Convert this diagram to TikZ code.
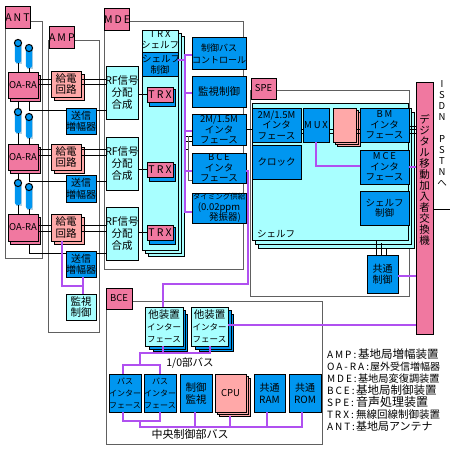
\documentclass[tikz,border=0pt]{standalone}
\usepackage{fontspec}
\setmainfont{Noto Sans CJK JP}
\newfontfamily\lsf[LetterSpace=20]{Noto Sans CJK JP}
\definecolor{cpink}{HTML}{F078A0}
\definecolor{ccyan}{HTML}{A8FFFF}
\definecolor{cblue}{HTML}{0096F0}
\definecolor{csalm}{HTML}{FFA8A8}
\definecolor{cpurp}{HTML}{B050F0}
\definecolor{cgray}{HTML}{606060}
\newcommand{\fz}[2]{\fontsize{#1}{#2}\selectfont}
% \bb[opts]{x1}{y1}{x2}{y2}{name}{fill}{text}
\newcommand{\bb}[8][]{\node[boxnode,fill=#7,minimum width={(#4-#2)*1pt},minimum height={(#5-#3)*1pt},text width={(#4-#2)*1pt},#1] (#6) at ({(#2+#4)/2},{(#3+#5)/2}) {#8};}
\newcommand{\ly}[5]{\draw[blk,fill=#5] (#1,#2) rectangle (#3,#4);}
\newcommand{\frm}[4]{\draw[framel] (#1,#2) rectangle (#3,#4);}
\newcommand{\antn}[3]{%
  \fill[cblue!45!gray!40] (#1-2.4,#2+1) rectangle (#1+4,#3+1);
  \fill[cblue,rounded corners=2.5pt] (#1-3.2,#2) rectangle (#1+3.2,#3);
  \draw[blk,fill=cblue] (#1,#2) circle (3.6pt);}
\newcommand{\lgl}[4]{\makebox[#2pt][l]{\lsf #1}{\fz{#3}{12}#4}}
\tikzset{
  x=1pt,y=-1pt,
  boxnode/.style={draw=black,line width=1pt,inner sep=0pt,outer sep=0pt,align=center,font=\fz{10.5}{11.5}},
  blk/.style={draw=black,line width=1pt},
  gryl/.style={draw=cgray,line width=1pt},
  framel/.style={draw=cgray,line width=1pt},
  pur/.style={draw=cpurp,line width=1.2pt},
  plain/.style={inner sep=0pt,outer sep=0pt,font=\fz{10}{11}}
}
\begin{document}
\begin{tikzpicture}
\useasboundingbox (0,0) rectangle (450,452);
\fill[white] (0,0) rectangle (450,452);
% frames
\frm{5}{22}{42}{258}
\frm{48}{41}{99}{332}
\frm{104}{22}{243}{269}
\frm{250}{90}{409}{296}
\frm{106}{301}{322}{444}
% tags
\bb{5}{7}{30}{29}{tant}{cpink}{\lsf ANT}
\bb{49}{27}{74}{49}{tamp}{cpink}{\lsf AMP}
\bb{104}{9}{129}{31}{tmde}{cpink}{\lsf MDE}
\bb[font=\fz{9.5}{11}]{251}{78}{276}{99}{tspe}{cpink}{SPE}
\bb[font=\fz{9.5}{11}]{106}{288}{132}{309}{tbce}{cpink}{BCE}
% antennas
\antn{18}{43}{63}
\antn{29}{48}{68}
\antn{18}{112}{133}
\antn{29}{117}{138}
\antn{18}{183}{205}
\antn{29}{187}{209}
% OA-RA
\ly{10}{75}{40}{101}{cpink}
\bb[font=\fz{9.5}{10}]{8}{72}{38}{98}{oa1}{cpink}{\makebox[30pt]{OA-RA}}
\ly{10}{147}{40}{173}{cpink}
\bb[font=\fz{9.5}{10}]{8}{144}{38}{170}{oa2}{cpink}{\makebox[30pt]{OA-RA}}
\ly{10}{217}{40}{244}{cpink}
\bb[font=\fz{9.5}{10}]{8}{214}{38}{241}{oa3}{cpink}{\makebox[30pt]{OA-RA}}
\draw[blk] (18,63) -- (18,72) (29,68) -- (29,72) (18,101) -- (18,108) (29,138) -- (29,144) (18,133) -- (18,144) (18,173) -- (18,180) (18,205) -- (18,214) (29,209) -- (29,214);
% feed
\ly{54}{74}{84}{100}{csalm}
\bb{51}{71}{81}{97}{f1}{csalm}{給電\\回路}
\ly{54}{147}{84}{173}{csalm}
\bb{51}{144}{81}{170}{f2}{csalm}{給電\\回路}
\ly{54}{217}{84}{244}{csalm}
\bb{51}{214}{81}{241}{f3}{csalm}{給電\\回路}
% tx amps
\bb[font=\fz{10}{11.5}]{66}{108}{96}{134}{a1}{cblue}{送信\\増幅器}
\bb[font=\fz{10}{11.5}]{66}{175}{96}{202}{a2}{cblue}{送信\\増幅器}
\bb[font=\fz{10}{11.5}]{66}{251}{96}{277}{a3}{cblue}{送信\\増幅器}
\bb{66}{294}{96}{320}{mon}{ccyan}{監視\\制御}
% RF
\bb[font=\fz{10.5}{12}]{106}{66}{138}{119}{r1}{ccyan}{\makebox[32pt]{RF信号}\\分配\\合成}
\bb[font=\fz{10.5}{12}]{106}{137}{138}{190}{r2}{ccyan}{\makebox[32pt]{RF信号}\\分配\\合成}
\bb[font=\fz{10.5}{12}]{106}{207}{138}{260}{r3}{ccyan}{\makebox[32pt]{RF信号}\\分配\\合成}
% TRX shelf
\ly{148}{37}{184}{256}{ccyan}
\ly{145}{34}{181}{253}{ccyan}
\bb{142}{31}{178}{250}{trs}{ccyan}{}
\node[plain,font=\fz{9.5}{11},align=center,anchor=north] (trl) at (160,31) {\lsf TRX\\シェルフ};
\bb[font=\fz{9.5}{11}]{142}{53}{178}{76}{scf}{cblue}{シェルフ\\制御}
\ly{149}{89}{175}{106}{cblue}
\bb{147}{87}{173}{102}{t1}{cpink}{\lsf TRX}
\ly{149}{164}{175}{181}{cblue}
\bb{147}{162}{173}{177}{t2}{cpink}{\lsf TRX}
\ly{149}{227}{175}{244}{cblue}
\bb{147}{225}{173}{240}{t3}{cpink}{\lsf TRX}
% right column
\bb[font=\fz{9}{12}]{192}{38}{246}{69}{cbc}{cblue}{制御バス\\コントロール}
\bb{192}{76}{246}{107}{msv}{cblue}{監視制御}
\bb[font=\fz{9.5}{10.5}]{192}{114}{246}{145}{m2}{cblue}{2M/1.5M\\インタ\\フェース}
\bb[font=\fz{9.5}{10.5}]{192}{153}{246}{183}{bif}{cblue}{{\lsf BCE}\\インタ\\フェース}
\bb[font=\fz{9.5}{10.5}]{192}{193}{246}{223}{tim}{cblue}{{\fz{7.5}{10}タイミング供給}\\(0.02ppm\\\hspace*{12pt}発振器)}
% SPE shelf
\ly{258}{112}{414}{248}{ccyan}
\ly{255}{108}{411}{244}{ccyan}
\bb{252}{103}{408}{240}{ssh}{ccyan}{}
\node[plain,font=\fz{9.5}{11}] (shl) at (276,234) {シェルフ};
\bb[font=\fz{9.5}{10.5}]{252}{108}{301}{142}{s2m}{cblue}{2M/1.5M\\インタ\\フェース}
\bb[font=\fz{9.5}{11}]{252}{145}{301}{179}{clk}{cblue}{クロック}
\bb[font=\fz{9.5}{11}]{303}{108}{329}{142}{mux}{cblue}{\makebox[26pt]{\lsf MUX}}
\ly{337}{112}{360}{146}{csalm}
\ly{335}{110}{358}{144}{csalm}
\bb{333}{108}{356}{142}{psk}{csalm}{}
\bb[font=\fz{9.5}{10.5}]{360}{108}{409}{142}{bm}{cblue}{{\lsf BM}\\インタ\\フェース}
\bb[font=\fz{9.5}{10.5}]{360}{150}{409}{184}{mce}{cblue}{{\lsf MCE}\\インタ\\フェース}
\bb[font=\fz{9.5}{10.5}]{360}{191}{409}{225}{ssc}{cblue}{シェルフ\\制御}
\bb[font=\fz{10}{11.5}]{367}{255}{398}{293}{ccn}{cblue}{共通\\制御}
% digital exchange
\bb{416}{82}{433}{334}{dig}{cpink}{}
\node[plain,font=\fz{10.5}{11},align=center,anchor=north] (dgl) at (424.5,115) {デ\\ジ\\タ\\ル\\移\\動\\加\\入\\者\\交\\換\\機};
\node[plain,font=\fz{9.5}{11},align=center,anchor=north] (isd) at (442,81) {I\\S\\D\\N\\[11pt]P\\S\\T\\N\\へ};
% BCE
\ly{153}{314}{187}{351}{cblue}
\ly{149}{310}{185}{349}{cblue}
\bb[font=\fz{8.5}{12}]{145}{307}{183}{346}{o1}{ccyan}{{\fz{10.5}{12}他装置}\\インター\\フェース}
\ly{199}{314}{233}{351}{cblue}
\ly{195}{310}{231}{349}{cblue}
\bb[font=\fz{8.5}{12}]{191}{307}{228}{346}{o2}{ccyan}{{\fz{10.5}{12}他装置}\\インター\\フェース}
\bb[font=\fz{8}{12}]{109}{374}{141}{412}{b1}{cblue}{バス\\インター\\フェース}
\bb[font=\fz{8}{12}]{144}{374}{176}{412}{b2}{cblue}{バス\\インター\\フェース}
\bb[font=\fz{10.5}{12}]{180}{374}{212}{412}{cm}{cblue}{制御\\監視}
\ly{219}{378}{250}{416}{csalm}
\ly{217}{376}{248}{414}{csalm}
\bb[font=\fz{9.5}{11}]{215}{374}{246}{412}{cpu}{csalm}{CPU}
\bb[font=\fz{10}{12}]{254}{374}{285}{412}{ram}{cblue}{共通\\RAM}
\bb[font=\fz{10}{12}]{289}{374}{321}{412}{rom}{cblue}{共通\\ROM}
\node[plain,font=\fz{10.5}{11}] (iob) at (190,363) {1/0部バス};
\node[plain,font=\fz{11}{11}] (cbs) at (190,434) {中央制御部バス};
% legend
\node[plain,anchor=north west,align=left,font=\fz{10}{12}] (leg) at (327,349) {%
\lgl{AMP:}{31}{11.5}{基地局増幅装置}\\
\lgl{OA-RA:}{43}{10}{屋外受信増幅器}\\
\lgl{MDE:}{31}{10.2}{基地局変復調装置}\\
\lgl{BCE:}{29}{11.5}{基地局制御装置}\\
\lgl{SPE:}{29}{12}{音声処理装置}\\
\lgl{TRX:}{29}{10.5}{無線回線制御装置}\\
\lgl{ANT:}{29}{11}{基地局アンテナ}};
% black connectors
\draw[blk] (oa1.east |- 0,79) -- (f1.west |- 0,79) (oa1.east |- 0,84) -- (f1.west |- 0,84)
           (f1.east |- 0,79) -- (r1.west |- 0,79) (f1.east |- 0,84) -- (r1.west |- 0,84);
\draw[blk] (oa2.east |- 0,149) -- (f2.west |- 0,149) (oa2.east |- 0,155) -- (f2.west |- 0,155)
           (f2.east |- 0,149) -- (r2.west |- 0,149) (f2.east |- 0,155) -- (r2.west |- 0,155);
\draw[blk] (oa3.east |- 0,225) -- (f3.west |- 0,225) (oa3.east |- 0,231) -- (f3.west |- 0,231)
           (f3.east |- 0,225) -- (r3.west |- 0,225) (f3.east |- 0,231) -- (r3.west |- 0,231);
\draw[blk] (29,101) -- (29,110) -- (a1.west |- 0,110) (a1.east |- 0,110) -- (r1.west |- 0,110);
\draw[blk] (29,173) -- (29,181) -- (a2.west |- 0,181) (a2.east |- 0,181) -- (r2.west |- 0,181);
\draw[blk] (29,244) -- (29,253) -- (a3.west |- 0,253) (a3.east |- 0,253) -- (r3.west |- 0,253);
\draw[blk] (r1.east |- t1.west) -- (t1.west);
\draw[blk] (r2.east |- t2.west) -- (t2.west);
\draw[blk] (r3.east |- t3.west) -- (t3.west);
\draw[blk] (184,136) -- (m2.west |- 0,136) (184,141) -- (m2.west |- 0,141) (184,149) -- (188,149);
\draw[gryl] (188,136) -- (188,180) -- (bif.west |- 0,180);
\draw[blk] (m2.east |- 0,129) -- (s2m.west |- 0,129);
\draw[blk] (s2m.east |- 0,129) -- (mux.west |- 0,129) (s2m.east |- 0,133) -- (mux.west |- 0,133);
\draw[blk] (mux.east |- 0,129) -- (psk.west |- 0,129) (mux.east |- 0,133) -- (psk.west |- 0,133);
\draw[blk] (360,129) -- (psk.east |- 0,129) (360,133) -- (psk.east |- 0,133);
\draw[blk] (bm.east |- 0,126) -- (dig.west |- 0,126) (bm.east |- 0,129) -- (dig.west |- 0,129) (bm.east |- 0,133) -- (dig.west |- 0,133);
\draw[blk] (376,240) -- (ccn.north -| 376,0) (381,243) -- (ccn.north -| 381,0) (386,248) -- (ccn.north -| 386,0);
\coordinate (pst) at (450,209);
\draw[blk] (dig.east |- pst) -- (pst);
% purple connectors
\draw[pur] (f3.south -| 62,0) -- (62,286) -- (83,286);
\draw[pur] (a3.south -| 83,0) -- (mon.north -| 83,0);
\draw[pur] (scf.east |- 0,60) -- (185,60);
\draw[pur] (cbc.west |- 0,55) -- (185,55) -- (185,212) -- (tim.west |- 0,212);
\draw[pur] (185,93) -- (msv.west |- 0,93) (185,131) -- (m2.west |- 0,131) (185,171) -- (bif.west |- 0,171);
\draw[pur] (bif.east |- 0,171) -- (248,171) -- (248,284) -- (163,284) -- (o1.north -| 163,0);
\draw[pur] (o2.east |- 0,325) -- (dig.west |- 0,325);
\draw[pur] (mux.south -| 316,0) -- (316,166) -- (mce.west |- 0,166);
\draw[pur] (mce.east |- 0,167) -- (dig.west |- 0,167);
\draw[pur] (ccn.east |- 0,276) -- (dig.west |- 0,276);
\draw[pur] (o1.south -| 163,0) -- (163,353) (o2.south -| 210,0) -- (210,353) -- (140,353) -- (140,365);
\draw[pur] (b1.north -| 123,0) -- (123,365) -- (160,365) -- (b2.north -| 160,0);
\draw[pur] (b1.south -| 123,0) -- (123,421) -- (160,421) -- (b2.south -| 160,0);
\draw[pur] (140,421) -- (140,427) -- (302,427) -- (rom.south -| 302,0);
\draw[pur] (cm.south -| 195,0) -- (195,427) (230,416) -- (230,427) (ram.south -| 267,0) -- (267,427);
\end{tikzpicture}
\end{document}
